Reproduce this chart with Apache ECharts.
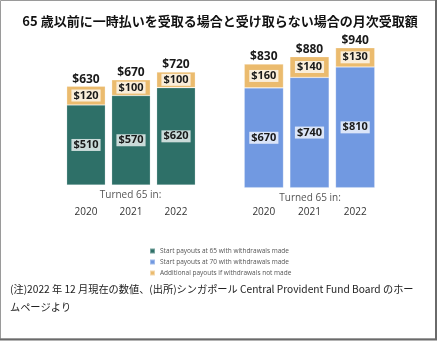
<!DOCTYPE html>
<html>
<head>
<meta charset="utf-8">
<script src="https://cdn.jsdelivr.net/npm/echarts@6/dist/echarts.min.js"></script>
<style>
  html, body { margin: 0; padding: 0; background: #fff; }
  #chart { width: 440px; height: 342px; }
</style>
</head>
<body>
<div id="chart"></div>
<script>
// Monthly CPF LIFE payouts by year of turning 65
const years = ['2020', '2021', '2022'];
const payout65 = [510, 570, 620];        // start at 65, lump sum withdrawn
const extra65 = [120, 100, 100];         // additional if no withdrawal
const payout70 = [670, 740, 810];        // start at 70, lump sum withdrawn
const extra70 = [160, 140, 130];         // additional if no withdrawal
const axisCaption = 'Turned 65 in:';

const total65 = payout65.map((v, i) => v + extra65[i]);
const total70 = payout70.map((v, i) => v + extra70[i]);

const NAME_65 = 'Start payouts at 65 with withdrawals made';
const NAME_70 = 'Start payouts at 70 with withdrawals made';
const NAME_EXTRA = 'Additional payouts if withdrawals not made';

const TEAL = '#2e7068';
const BLUE = '#7199e1';
const GOLD = '#ebbb6e';
const FONT = '"Open Sans", sans-serif';

const money = p => '$' + p.value;

const insideLabel = {
  show: true,
  position: 'inside',
  formatter: money,
  fontFamily: FONT,
  fontWeight: 700,
  fontSize: 11,
  color: '#1a1a1a',
  backgroundColor: 'rgba(255,255,255,0.75)',
  padding: [1, 2, 0, 2]
};

const totalLabel = {
  show: true,
  position: 'top',
  distance: 1,
  formatter: money,
  fontFamily: FONT,
  fontWeight: 700,
  fontSize: 12,
  color: '#1a1a1a'
};

function xAxisFor(gridIndex, margin) {
  return {
    type: 'category',
    gridIndex: gridIndex,
    data: years,
    axisLine: { show: false },
    axisTick: { show: false },
    axisLabel: { margin: margin, fontFamily: FONT, fontSize: 10, color: '#333' }
  };
}

function yAxisFor(gridIndex) {
  return {
    type: 'value',
    gridIndex: gridIndex,
    min: 0,
    max: 1000,
    show: false,
    splitLine: { show: false }
  };
}

function stackPair(idx, baseName, baseData, baseColor, extraData, totals) {
  const stack = 'g' + idx;
  return [
    {
      type: 'bar', name: baseName, xAxisIndex: idx, yAxisIndex: idx, stack: stack,
      data: baseData, barCategoryGap: '14%',
      itemStyle: { color: baseColor, borderColor: 'rgba(255,255,255,0.35)', borderWidth: 0.6 },
      label: insideLabel
    },
    {
      type: 'bar', name: NAME_EXTRA, xAxisIndex: idx, yAxisIndex: idx, stack: stack,
      data: extraData, barCategoryGap: '14%',
      itemStyle: { color: GOLD, borderColor: 'rgba(255,255,255,0.45)', borderWidth: 0.6 },
      label: insideLabel
    },
    {
      // transparent overlay carrying the total above each stack
      type: 'bar', name: 'total' + idx, xAxisIndex: idx, yAxisIndex: idx,
      data: totals, barGap: '-100%', barCategoryGap: '14%', z: 1,
      itemStyle: { color: 'rgba(0,0,0,0)' },
      label: totalLabel,
      silent: true
    }
  ];
}

function caption(cx, cy) {
  return {
    type: 'text',
    x: cx,
    y: cy,
    style: {
      text: axisCaption,
      fontFamily: FONT,
      fontSize: 10,
      fill: '#555',
      align: 'center',
      verticalAlign: 'middle'
    },
    silent: true
  };
}

const chart = echarts.init(document.getElementById('chart'), null, { renderer: 'canvas' });

chart.setOption({
  animation: false,
  backgroundColor: '#fff',
  title: {
    text: '65 歳以前に一時払いを受取る場合と受け取らない場合の月次受取額',
    left: 'center',
    top: 10,
    textStyle: {
      fontFamily: '"Noto Sans CJK JP", sans-serif',
      fontWeight: 700,
      fontSize: 13,
      color: '#111'
    }
  },
  legend: {
    data: [NAME_65, NAME_70, NAME_EXTRA],
    orient: 'vertical',
    left: 144,
    top: 242,
    itemWidth: 5,
    itemHeight: 5,
    itemGap: 3,
    icon: 'rect',
    textStyle: { fontFamily: FONT, fontSize: 6.5, color: '#555', lineHeight: 8 }
  },
  grid: [
    { left: 63.5, width: 135, top: 28, height: 157 },
    { left: 241, width: 137, top: 38.7, height: 149 }
  ],
  xAxis: [xAxisFor(0, 22), xAxisFor(1, 19.5)],
  yAxis: [yAxisFor(0), yAxisFor(1)],
  series: [
    ...stackPair(0, NAME_65, payout65, TEAL, extra65, total65),
    ...stackPair(1, NAME_70, payout70, BLUE, extra70, total70)
  ],
  graphic: [
    caption(130.5, 195.5),
    caption(310, 198.5),
    {
      type: 'text',
      left: 10,
      top: 280,
      style: {
        text: '(注)2022 年 12 月現在の数値、(出所)シンガポール Central Provident Fund Board のホー\nムページより',
        fontFamily: '"Noto Sans CJK JP", sans-serif',
        fontSize: 10.2,
        lineHeight: 18,
        fill: '#222'
      }
    },
    {
      type: 'rect',
      shape: { x: 0.5, y: 0.5, width: 435, height: 338.5 },
      style: { fill: 'none', stroke: '#9a9a9a', lineWidth: 1 },
      silent: true
    },
    {
      type: 'line',
      shape: { x1: 436, y1: 0, x2: 436, y2: 340 },
      style: { stroke: '#6a6a6a', lineWidth: 2 },
      silent: true
    },
    {
      type: 'line',
      shape: { x1: 0, y1: 339.5, x2: 437, y2: 339.5 },
      style: { stroke: '#6a6a6a', lineWidth: 2 },
      silent: true
    }
  ]
});
</script>
</body>
</html>
